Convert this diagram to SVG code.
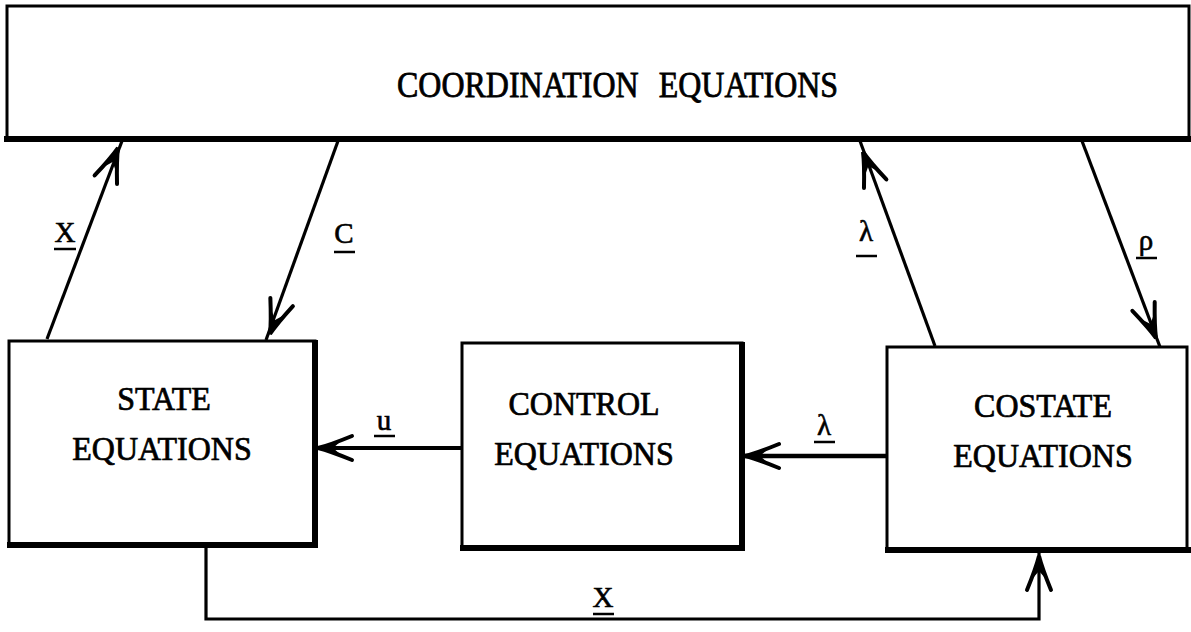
<svg xmlns="http://www.w3.org/2000/svg" width="1191" height="632" viewBox="0 0 1191 632">
<style>
.box{fill:#fff;stroke:#000;stroke-width:3}
.edge{stroke:#000;stroke-width:6;fill:none;stroke-linecap:square}
.t{font-family:"Liberation Serif","Times New Roman",serif;font-size:32px;fill:#000;stroke:#000;stroke-width:0.7;text-anchor:middle}
.lb{font-family:"Liberation Serif","Times New Roman",serif;font-size:29px;fill:#000;stroke:#000;stroke-width:0.6;text-anchor:middle}
.ul{stroke:#000;stroke-width:2.5}
.ln{stroke:#000;stroke-width:3.2;fill:none}
.ah{fill:none;stroke:#000;stroke-width:4;stroke-linecap:round}
.ahf{fill:#000}
</style>
<defs>
<g id="arrow">
<path class="ah" d="M-34,-12 Q-12,-3 0,0 Q-12,3 -34,12"/>
<path class="ahf" d="M1,0 L-22,-6 L-15,0 L-22,6 Z"/>
</g>
</defs>

<g id="coordination">
<rect class="box" x="7" y="6" width="1182" height="133"/>
<line class="edge" x1="7" y1="139" x2="1189" y2="139"/>
<text class="t" style="text-anchor:start;word-spacing:12px" transform="translate(397,97) scale(1,1.1)">COORDINATION EQUATIONS</text>
</g>

<g id="state">
<rect class="box" x="9" y="341" width="306" height="204"/>
<line class="edge" x1="315" y1="343" x2="315" y2="545"/>
<line class="edge" x1="10" y1="545" x2="315" y2="545"/>
<text class="t" transform="translate(164,410) scale(1,1.05)">STATE</text>
<text class="t" transform="translate(162,460) scale(1,1.05)">EQUATIONS</text>
</g>

<g id="control">
<rect class="box" x="462" y="343" width="280" height="205"/>
<line class="edge" x1="742" y1="345" x2="742" y2="548"/>
<line class="edge" x1="463" y1="548" x2="742" y2="548"/>
<text class="t" transform="translate(584,415) scale(1,1.05)">CONTROL</text>
<text class="t" transform="translate(584,465) scale(1,1.05)">EQUATIONS</text>
</g>

<g id="costate">
<rect class="box" x="887" y="347" width="300" height="203"/>
<line class="edge" x1="888" y1="550" x2="1189" y2="550"/>
<text class="t" transform="translate(1043,417) scale(1,1.05)">COSTATE</text>
<text class="t" transform="translate(1043,467) scale(1,1.05)">EQUATIONS</text>
</g>

<g id="connectors">
<line class="ln" x1="47" y1="339" x2="122" y2="141"/>
<use href="#arrow" transform="translate(118,148) rotate(-69)"/>
<line class="ln" x1="338" y1="141" x2="266" y2="340"/>
<use href="#arrow" transform="translate(270,334) rotate(110)"/>
<line class="ln" x1="935" y1="346" x2="860" y2="141"/>
<use href="#arrow" transform="translate(863,152) rotate(-111)"/>
<line class="ln" x1="1082" y1="141" x2="1160" y2="347"/>
<use href="#arrow" transform="translate(1156,338) rotate(68.5)"/>
<line class="ln" x1="462" y1="448" x2="316" y2="448" style="stroke-width:4"/>
<use href="#arrow" transform="translate(318,448) rotate(180)"/>
<line class="ln" x1="887" y1="456" x2="743" y2="456" style="stroke-width:4.5"/>
<use href="#arrow" transform="translate(745,456) rotate(180)"/>
<polyline class="ln" points="206,547 206,619 1039,619 1039,552"/>
<use href="#arrow" transform="translate(1039,556) rotate(-90)"/>

<text class="lb" x="65" y="242">X</text>
<line class="ul" x1="54" y1="249" x2="76" y2="249"/>
<text class="lb" x="344" y="243">C</text>
<line class="ul" x1="334" y1="252" x2="355" y2="252"/>
<text class="lb" x="866" y="241">λ</text>
<line class="ul" x1="856" y1="256" x2="877" y2="256"/>
<text class="lb" x="1146" y="250">ρ</text>
<line class="ul" x1="1136" y1="258" x2="1157" y2="258"/>
<text class="lb" x="384" y="430">u</text>
<line class="ul" x1="374" y1="436" x2="395" y2="436"/>
<text class="lb" x="824" y="435">λ</text>
<line class="ul" x1="814" y1="442" x2="835" y2="442"/>
<text class="lb" x="603" y="607">X</text>
<line class="ul" x1="593" y1="614" x2="614" y2="614"/>
</g>
</svg>
